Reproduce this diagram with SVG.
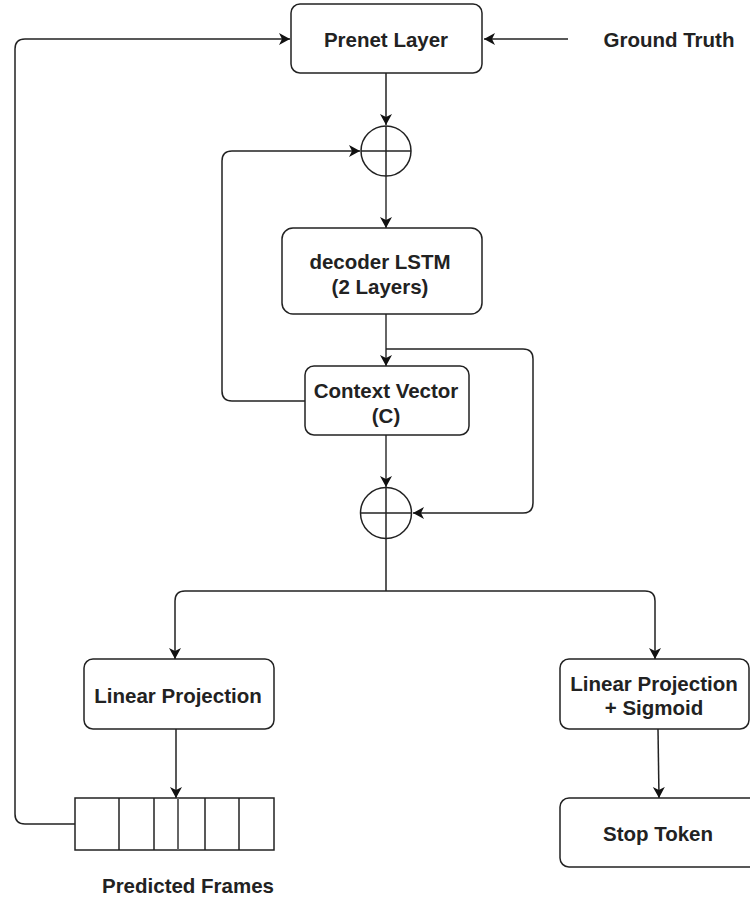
<svg xmlns="http://www.w3.org/2000/svg" width="750" height="900" viewBox="0 0 750 900">
  <defs>
    <marker id="arrow" markerWidth="14" markerHeight="14" refX="11" refY="6" orient="auto" markerUnits="userSpaceOnUse">
      <path d="M0,0 L11,6 L0,12 L3,6 z" fill="#111"/>
    </marker>
    <style>
      .box { fill: #fff; stroke: #222; stroke-width: 1.5; }
      .lbl { font-family: "Liberation Sans", Arial, sans-serif; font-weight: bold; font-size: 20.5px; fill: #222; text-anchor: middle; dominant-baseline: central; }
      .edge { fill: none; stroke: #222; stroke-width: 1.5; }
      .gray { fill: none; stroke: #666; stroke-width: 2; }
      .sum { fill: #fff; stroke: #222; stroke-width: 1.5; }
    </style>
  </defs>
  <rect width="750" height="900" fill="#fff"/>

  <!-- connectors -->
  <g id="connectors">
    <!-- ground truth into prenet -->
    <line class="edge" x1="568" y1="39" x2="484" y2="39" marker-end="url(#arrow)"/>
    <!-- prenet to first sum -->
    <line class="edge" x1="386" y1="73" x2="386" y2="125" marker-end="url(#arrow)"/>
    <!-- first sum to decoder -->
    <line class="gray" x1="386" y1="176" x2="386" y2="228" marker-end="url(#arrow)"/>
    <!-- decoder to context -->
    <line class="gray" x1="386" y1="314" x2="386" y2="366" marker-end="url(#arrow)"/>
    <!-- decoder output bypass to second sum -->
    <path class="edge" d="M386,349 L523,349 Q533,349 533,359 L533,503 Q533,513 523,513 L413,513" marker-end="url(#arrow)"/>
    <!-- context feedback to first sum -->
    <path class="edge" d="M305,401 L232,401 Q222,401 222,391 L222,161 Q222,151 232,151 L360,151" marker-end="url(#arrow)"/>
    <!-- context to second sum -->
    <line class="gray" x1="386" y1="435" x2="386" y2="487" marker-end="url(#arrow)"/>
    <!-- second sum split -->
    <path class="edge" d="M386,539 L386,591"/>
    <path class="edge" d="M386,591 L185,591 Q175,591 175,601 L175,659" marker-end="url(#arrow)"/>
    <path class="edge" d="M386,591 L645,591 Q655,591 655,601 L655,659" marker-end="url(#arrow)"/>
    <!-- projections to outputs -->
    <line class="edge" x1="176" y1="729" x2="176" y2="798" marker-end="url(#arrow)"/>
    <line class="edge" x1="658" y1="729" x2="659" y2="798" marker-end="url(#arrow)"/>
    <!-- predicted frames fed back to prenet -->
    <path class="edge" d="M75,824 L25,824 Q15,824 15,814 L15,49 Q15,39 25,39 L290,39" marker-end="url(#arrow)"/>
  </g>

  <g id="prenet">
    <rect class="box" x="291" y="4" width="191" height="69" rx="9"/>
    <text class="lbl" x="386" y="39">Prenet Layer</text>
  </g>

  <g id="ground-truth">
    <text class="lbl" x="669" y="39">Ground Truth</text>
  </g>

  <g id="sum-1">
    <circle class="sum" cx="386" cy="151" r="25"/>
    <line class="edge" x1="361" y1="151" x2="411" y2="151"/>
    <line class="edge" x1="386" y1="126" x2="386" y2="176"/>
  </g>

  <g id="decoder-lstm">
    <rect class="box" x="282" y="228" width="200" height="86" rx="11"/>
    <text class="lbl" x="380" y="261">decoder LSTM</text>
    <text class="lbl" x="380" y="286">(2 Layers)</text>
  </g>

  <g id="context-vector">
    <rect class="box" x="305" y="366" width="164" height="69" rx="9"/>
    <text class="lbl" x="386" y="390">Context Vector</text>
    <text class="lbl" x="386" y="415">(C)</text>
  </g>

  <g id="sum-2">
    <circle class="sum" cx="386" cy="513" r="25.5"/>
    <line class="edge" x1="360.5" y1="513" x2="411.5" y2="513"/>
    <line class="edge" x1="386" y1="487.5" x2="386" y2="538.5"/>
  </g>

  <g id="linear-projection">
    <rect class="box" x="84" y="659" width="190" height="70" rx="9"/>
    <text class="lbl" x="178" y="695">Linear Projection</text>
  </g>

  <g id="linear-projection-sigmoid">
    <rect class="box" x="560" y="659" width="189" height="70" rx="9"/>
    <text class="lbl" x="654" y="683">Linear Projection</text>
    <text class="lbl" x="654" y="707">+ Sigmoid</text>
  </g>

  <g id="predicted-frames">
    <rect x="75" y="798" width="199" height="52" fill="#fff" stroke="#222" stroke-width="1.5"/>
    <line class="edge" x1="119" y1="798" x2="119" y2="850"/>
    <line class="edge" x1="154" y1="798" x2="154" y2="850"/>
    <line class="gray" x1="178" y1="798" x2="178" y2="850"/>
    <line class="edge" x1="205" y1="798" x2="205" y2="850"/>
    <line class="edge" x1="239" y1="798" x2="239" y2="850"/>
    <text class="lbl" x="188" y="885">Predicted Frames</text>
  </g>

  <g id="stop-token">
    <rect class="box" x="560" y="798" width="200" height="69" rx="9"/>
    <text class="lbl" x="658" y="833">Stop Token</text>
  </g>
</svg>
